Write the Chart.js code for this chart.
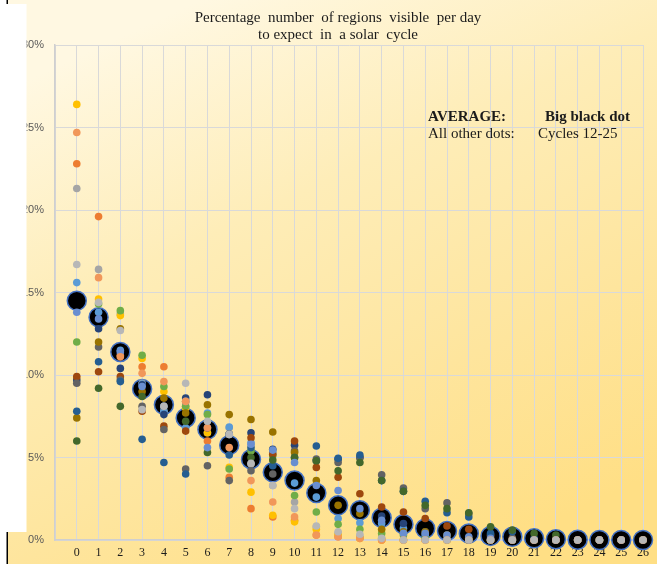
<!DOCTYPE html>
<html>
<head>
<meta charset="utf-8">
<script src="https://cdn.jsdelivr.net/npm/chart.js@4.4.1/dist/chart.umd.min.js"></script>
<style>
  html, body { margin: 0; padding: 0; background: #ffffff; }
  #wrap { width: 657px; height: 564px; position: relative; }
</style>
</head>
<body>
<div id="wrap"><canvas id="c" width="657" height="564"></canvas></div>
<script>
// Number of regions visible on a given day (x categories)
const regionsPerDay = [0, 1, 2, 3, 4, 5, 6, 7, 8, 9, 10, 11, 12, 13, 14, 15, 16, 17, 18, 19, 20, 21, 22, 23, 24, 25, 26];

// Percentage of days in each cycle with that many regions visible
const cycle12 = [22.8, 19.6, 11.2, 10.5, 10.5, 8.4, 6.0, 3.8, 1.9, 1.4, 1.2, 0.3, 0.2, 0.1, 0, 0, 0, 0, 0, 0, 0, 0, 0, 0, 0, 0, 0];
const cycle13 = [21.3, 16.4, 13.7, 9.5, 7.8, 8.1, 6.5, 6.8, 4.6, 3.3, 2.3, 0.8, 0.4, 0.2, 0.1, 0, 0, 0, 0, 0, 0, 0, 0, 0, 0, 0, 0];
const cycle14 = [26.4, 14.6, 13.6, 11.0, 9.0, 8.0, 6.5, 4.4, 2.9, 1.5, 1.1, 0.65, 0.3, 0.1, 0, 0, 0, 0, 0, 0, 0, 0, 0, 0, 0, 0, 0];
const cycle15 = [15.6, 13.8, 11.5, 9.45, 7.8, 6.8, 7.7, 6.85, 5.9, 5.3, 3.45, 2.6, 1.3, 1.05, 1.0, 0.7, 0.3, 0.1, 0, 0, 0, 0, 0, 0, 0, 0, 0];
const cycle16 = [12.0, 14.3, 13.9, 11.2, 9.3, 8.1, 7.6, 4.3, 5.4, 5.1, 2.7, 1.7, 0.95, 0.65, 0.4, 0.3, 0.1, 0, 0, 0, 0, 0, 0, 0, 0, 0, 0];
const cycle17 = [9.7, 12.8, 10.4, 9.4, 7.6, 8.6, 8.8, 6.4, 6.5, 5.5, 5.75, 4.8, 4.9, 5.0, 1.45, 1.0, 0.5, 0.2, 0, 0, 0, 0, 0, 0, 0, 0, 0];
const cycle18 = [9.9, 10.2, 9.9, 7.8, 6.9, 6.6, 6.8, 6.4, 6.2, 5.2, 6.0, 4.4, 3.8, 2.8, 2.0, 1.7, 1.3, 0.85, 0.65, 0.25, 0.1, 0, 0, 0, 0, 0, 0];
const cycle19 = [9.5, 11.7, 9.7, 8.1, 6.7, 4.3, 4.5, 3.6, 4.2, 4.0, 5.4, 4.9, 4.7, 5.0, 3.95, 3.15, 1.9, 2.25, 1.6, 0.3, 0.1, 0, 0, 0, 0, 0, 0];
const cycle20 = [7.4, 12.0, 12.8, 9.0, 8.6, 7.7, 8.2, 7.6, 7.3, 6.55, 5.3, 3.6, 2.1, 1.6, 0.65, 0.5, 0.5, 0.3, 0.1, 0, 0, 0, 0, 0, 0, 0, 0];
const cycle21 = [7.8, 10.8, 9.6, 6.1, 4.7, 4.0, 6.8, 5.15, 5.6, 4.5, 5.0, 5.7, 4.95, 5.15, 3.6, 2.95, 2.35, 1.65, 1.4, 0.4, 0.5, 0.1, 0, 0, 0, 0, 0];
const cycle22 = [6.0, 9.2, 8.1, 8.7, 8.1, 7.2, 5.3, 6.4, 5.0, 4.85, 5.0, 4.8, 4.2, 4.7, 3.6, 2.95, 2.1, 1.9, 1.65, 0.8, 0.6, 0.4, 0.3, 0, 0, 0, 0];
const cycle23 = [13.8, 13.4, 11.4, 9.3, 8.1, 8.4, 5.6, 6.4, 5.8, 5.45, 4.7, 3.3, 3.0, 1.9, 1.2, 0.4, 0.4, 0.3, 0.2, 0.1, 0, 0, 0, 0, 0, 0, 0];
const cycle24 = [24.7, 15.9, 11.1, 10.1, 9.6, 8.4, 6.8, 5.6, 3.6, 2.3, 1.4, 0.3, 0.2, 0.1, 0, 0, 0, 0, 0, 0, 0, 0, 0, 0, 0, 0, 0];
const cycle25 = [16.7, 14.4, 12.7, 7.9, 8.1, 9.5, 7.2, 6.4, 4.65, 3.3, 1.9, 0.85, 0.5, 0.35, 0.1, 0, 0, 0, 0, 0, 0, 0, 0, 0, 0, 0, 0];

// Average over all cycles
const average = [14.5, 13.5, 11.4, 9.15, 8.2, 7.4, 6.7, 5.75, 4.9, 4.1, 3.6, 2.85, 2.1, 1.8, 1.35, 0.95, 0.7, 0.55, 0.4, 0.25, 0.2, 0.1, 0.05, 0.02, 0, 0, 0];

// Percentage axis ticks
const percentTicks = [0, 5, 10, 15, 20, 25, 30];

const cycleNames = ['Cycle 12', 'Cycle 13', 'Cycle 14', 'Cycle 15', 'Cycle 16', 'Cycle 17', 'Cycle 18',
                    'Cycle 19', 'Cycle 20', 'Cycle 21', 'Cycle 22', 'Cycle 23', 'Cycle 24', 'Cycle 25'];
const cycleSeries = [cycle12, cycle13, cycle14, cycle15, cycle16, cycle17, cycle18,
                     cycle19, cycle20, cycle21, cycle22, cycle23, cycle24, cycle25];

// Office-style series palette
const cycleColors = ['#ED7D31', '#A5A5A5', '#FFC000', '#5B9BD5', '#70AD47', '#264478', '#9E480E',
                     '#636363', '#997300', '#255E91', '#43682B', '#698ED0', '#F1975A', '#B7B7B7'];

const toPoints = vals => vals.map((v, i) => ({ x: regionsPerDay[i], y: v }));

// Average is drawn first (behind); later cycles sit on top of earlier ones
const datasets = [{
  label: 'Average',
  data: toPoints(average),
  backgroundColor: '#000000',
  borderColor: '#4472C4',
  borderWidth: 1.5,
  pointRadius: 9.5,
  pointHoverRadius: 9.5,
  order: 100,
  clip: false
}];
cycleSeries.forEach((vals, k) => {
  datasets.push({
    label: cycleNames[k],
    data: toPoints(vals),
    backgroundColor: cycleColors[k],
    borderColor: cycleColors[k],
    borderWidth: 0,
    pointRadius: 3.8,
    pointHoverRadius: 3.8,
    order: 50 - k,
    clip: false
  });
});

// Panel background, title and key text
const panelPlugin = {
  id: 'panel',
  beforeDraw(chart) {
    const ctx = chart.ctx;
    const W = chart.width, H = chart.height;
    ctx.save();
    ctx.fillStyle = '#ffffff';
    ctx.fillRect(0, 0, W, H);
    const g = ctx.createLinearGradient(200, 0, 460, H);
    g.addColorStop(0, '#FFF8E2');
    g.addColorStop(0.35, '#FEEDB8');
    g.addColorStop(0.7, '#FEE59D');
    g.addColorStop(1, '#FFDF85');
    ctx.fillStyle = g;
    ctx.fillRect(8, 0, W - 8, H);
    ctx.fillStyle = '#000000';
    ctx.fillRect(6.5, 0, 1.5, H);
    ctx.restore();
  },
  afterDraw(chart) {
    const ctx = chart.ctx;
    ctx.save();
    // white cut-out on the left edge
    ctx.fillStyle = '#ffffff';
    ctx.fillRect(0, 4, 26.5, 528);

    ctx.fillStyle = '#1b1b1b';
    ctx.textBaseline = 'alphabetic';
    ctx.textAlign = 'center';
    ctx.font = '15px "Liberation Serif", "Times New Roman", serif';
    ctx.fillText('Percentage  number  of regions  visible  per day', 338, 22);
    ctx.fillText('to expect  in  a solar  cycle', 338, 39);

    ctx.textAlign = 'left';
    ctx.font = 'bold 15px "Liberation Serif", "Times New Roman", serif';
    ctx.fillText('AVERAGE:', 428, 121);
    ctx.fillText('Big black dot', 545, 121);
    ctx.font = '15px "Liberation Serif", "Times New Roman", serif';
    ctx.fillText('All other dots:', 428, 138);
    ctx.fillText('Cycles 12-25', 538, 138);
    ctx.restore();
  }
};

new Chart(document.getElementById('c'), {
  type: 'scatter',
  data: { datasets },
  options: {
    responsive: false,
    animation: false,
    events: [],
    layout: { padding: { top: 45, right: 14, left: 0, bottom: 0 } },
    plugins: {
      legend: { display: false },
      tooltip: { enabled: false },
      title: { display: false }
    },
    scales: {
      x: {
        type: 'linear',
        position: 'bottom',
        min: -1,
        max: 26,
        afterBuildTicks: scale => {
          scale.ticks = [-1].concat(regionsPerDay).map(v => ({ value: v }));
        },
        afterFit: scale => { scale.height = 24; },
        ticks: {
          autoSkip: false,
          maxRotation: 0,
          padding: 6,
          color: '#1b1b1b',
          font: { family: '"Liberation Serif", "Times New Roman", serif', size: 12 },
          callback: v => (v < 0 ? '' : String(v))
        },
        grid: { color: '#D9D9D9', lineWidth: 1, drawTicks: false },
        border: { color: '#CFCFCF', width: 1.5 }
      },
      y: {
        type: 'linear',
        min: 0,
        max: 30,
        afterBuildTicks: scale => {
          scale.ticks = percentTicks.map(v => ({ value: v }));
        },
        afterFit: scale => { scale.width = 55; },
        ticks: {
          padding: 11,
          color: '#595959',
          font: { family: '"Liberation Sans", Arial, sans-serif', size: 11 },
          callback: v => v + '%'
        },
        grid: { color: '#D9D9D9', lineWidth: 1, drawTicks: false },
        border: { color: '#CFCFCF', width: 1.5 }
      }
    }
  },
  plugins: [panelPlugin]
});
</script>
</body>
</html>
